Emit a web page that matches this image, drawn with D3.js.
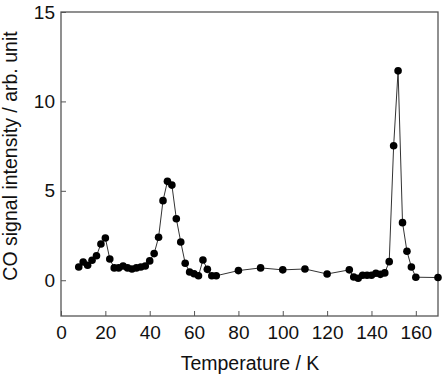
<!DOCTYPE html>
<html>
<head>
<meta charset="utf-8">
<script src="https://cdn.jsdelivr.net/npm/d3@7"></script>
<style>
  body { margin: 0; background: #fff; }
  text { font-family: "Liberation Sans", Arial, sans-serif; fill: #111; }
</style>
</head>
<body>
<div id="chart"></div>
<script>
// temperature (K) and CO signal
const temperature = [8, 10, 12, 14, 16, 18, 20, 22, 24, 26, 28, 30, 32, 34, 36, 38, 40, 42, 44, 46, 48, 50, 52, 54, 56, 58, 60, 62, 64, 66, 68, 70, 80, 90, 100, 110, 120, 130, 132, 134, 136, 138, 140, 142, 144, 146, 148, 150, 152, 154, 156, 158, 160, 170];
const signal = [0.74, 1.02, 0.84, 1.12, 1.37, 2.03, 2.36, 1.19, 0.69, 0.69, 0.80, 0.69, 0.63, 0.69, 0.74, 0.80, 1.08, 1.49, 2.4, 4.45, 5.53, 5.32, 3.44, 2.14, 0.95, 0.46, 0.36, 0.25, 1.13, 0.61, 0.25, 0.25, 0.54, 0.69, 0.58, 0.63, 0.35, 0.58, 0.18, 0.11, 0.28, 0.28, 0.28, 0.39, 0.33, 0.41, 1.04, 7.52, 11.71, 3.22, 1.62, 0.74, 0.17, 0.15];
const xTicks = [0, 20, 40, 60, 80, 100, 120, 140, 160];
const yTicks = [0, 5, 10, 15];

const data = temperature.map((t, i) => ({ t, v: signal[i] }));

const width = 444;
const height = 376;
const margin = { top: 12, right: 6, bottom: 60, left: 61 };

const x = d3.scaleLinear().domain([0, 170]).range([margin.left, width - margin.right]);
const y = d3.scaleLinear().domain([-2, 15]).range([height - margin.bottom, margin.top]);

const svg = d3.select("#chart").append("svg")
    .attr("width", width)
    .attr("height", height);

// frame
svg.append("rect")
    .attr("x", x(0))
    .attr("y", y(15))
    .attr("width", x(170) - x(0))
    .attr("height", y(-2) - y(15))
    .attr("fill", "none")
    .attr("stroke", "#555")
    .attr("stroke-width", 1.3);

// x axis, inward ticks
const xAxis = svg.append("g")
    .attr("transform", `translate(0,${y(-2)})`)
    .call(d3.axisBottom(x).tickValues(xTicks).tickSizeInner(-5).tickSizeOuter(0).tickPadding(9.5));
xAxis.select(".domain").remove();
xAxis.selectAll("line").attr("stroke", "#555");
xAxis.selectAll("text").style("font-size", "19px");

const yAxis = svg.append("g")
    .attr("transform", `translate(${x(0)},0)`)
    .call(d3.axisLeft(y).tickValues(yTicks).tickSizeInner(-5).tickSizeOuter(0).tickPadding(6));
yAxis.select(".domain").remove();
yAxis.selectAll("line").attr("stroke", "#555");
yAxis.selectAll("text").style("font-size", "19px");

// axis titles
svg.append("text")
    .attr("x", 250)
    .attr("y", 369.5)
    .attr("text-anchor", "middle")
    .style("font-size", "19.5px")
    .text("Temperature / K");

svg.append("text")
    .attr("transform", "translate(17,156) rotate(-90)")
    .attr("text-anchor", "middle")
    .style("font-size", "19.5px")
    .text("CO signal intensity / arb. unit");

const line = d3.line()
    .x((d) => x(d.t))
    .y((d) => y(d.v));

svg.append("path")
    .datum(data)
    .attr("d", line)
    .attr("fill", "none")
    .attr("stroke", "#333")
    .attr("stroke-width", 1);

svg.selectAll(".pt")
    .data(data)
    .enter()
    .append("circle")
    .attr("class", "pt")
    .attr("cx", (d) => x(d.t))
    .attr("cy", (d) => y(d.v))
    .attr("r", 3.8)
    .attr("fill", "#000");
</script>
</body>
</html>
